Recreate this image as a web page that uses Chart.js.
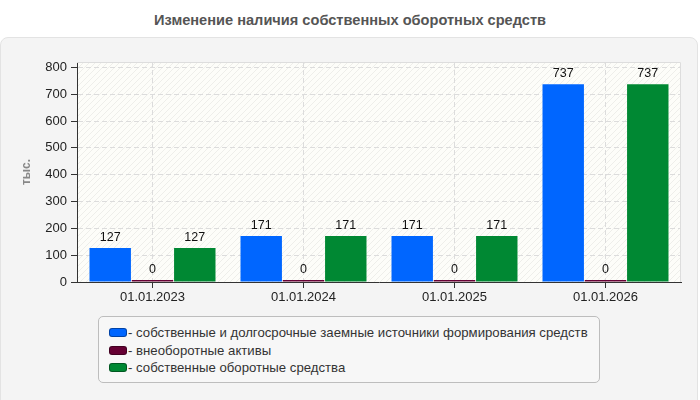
<!DOCTYPE html>
<html lang="ru">
<head>
<meta charset="utf-8">
<script src="https://cdn.jsdelivr.net/npm/chart.js@4/dist/chart.umd.min.js"></script>
<style>
    html, body { margin: 0; padding: 0; background: #fff; }
    body { width: 700px; height: 400px; position: relative; overflow: hidden; font-family: "Liberation Sans", Arial, sans-serif; }
    #title { position: absolute; top: 11px; left: 0; width: 700px; text-align: center; font-size: 14.6px; line-height: 18px; font-weight: bold; color: #555; }
    #panel { position: absolute; top: 37px; left: 0; width: 696px; height: 380px; background: #f4f4f4; border: 1px solid #e3e3e3; border-radius: 8px; }
    #chartBox { position: absolute; top: 38px; left: 0; width: 700px; height: 272px; }
    #legend { position: absolute; left: 98px; top: 316px; width: 502px; height: 67px; border: 1px solid #bdbdbd; border-radius: 5px; background: #f7f7f7; box-sizing: border-box; padding-top: 7px; }
    .item { height: 17.5px; line-height: 17.5px; font-size: 13.2px; color: #333; padding-left: 10px; white-space: nowrap; }
    .swatch { display: inline-block; width: 16px; height: 7px; border-radius: 3px; border: 1px solid rgba(0,0,0,0.35); vertical-align: middle; margin-right: 1px; position: relative; top: -1px; }
</style>
</head>
<body>
<div id="title">Изменение наличия собственных оборотных средств</div>
<div id="panel"></div>
<div id="chartBox"><canvas id="capitalChart" width="700" height="272"></canvas></div>
<div id="legend"></div>
<script>
    // Data
    const dates = ["01.01.2023", "01.01.2024", "01.01.2025", "01.01.2026"];
    const sourcesValues = [127, 171, 171, 737];
    const fixedAssetsValues = [0, 0, 0, 0];
    const workingCapitalValues = [127, 171, 171, 737];
    const yTickValues = [0, 100, 200, 300, 400, 500, 600, 700, 800];
    const seriesNames = [
        "собственные и долгосрочные заемные источники формирования средств",
        "внеоборотные активы",
        "собственные оборотные средства"
    ];
    const seriesColors = ["#0066ff", "#660033", "#008833"];

    // Faint diagonal hatch for the plot area
    function makeHatch() {
        const c = document.createElement('canvas');
        c.width = 6; c.height = 6;
        const g = c.getContext('2d');
        g.fillStyle = '#fdfdf9';
        g.fillRect(0, 0, 6, 6);
        g.strokeStyle = '#eeeeea';
        g.lineWidth = 1;
        g.beginPath();
        g.moveTo(0, 6); g.lineTo(6, 0);
        g.moveTo(-1, 1); g.lineTo(1, -1);
        g.moveTo(5, 7); g.lineTo(7, 5);
        g.stroke();
        return g.createPattern(c, 'repeat');
    }

    const plotFrame = {
        id: 'plotFrame',
        beforeDraw(chart) {
            const a = chart.chartArea, ctx = chart.ctx;
            ctx.save();
            ctx.fillStyle = makeHatch();
            ctx.fillRect(a.left, a.top, a.right - a.left, a.bottom - a.top);
            ctx.restore();
        },
        afterDraw(chart) {
            const a = chart.chartArea, ctx = chart.ctx;
            ctx.save();
            ctx.strokeStyle = '#dddddd';
            ctx.lineWidth = 1;
            ctx.beginPath();
            ctx.moveTo(a.left, a.top + 0.5);
            ctx.lineTo(a.right - 0.5, a.top + 0.5);
            ctx.lineTo(a.right - 0.5, a.bottom);
            ctx.stroke();
            ctx.restore();
        }
    };

    // Value labels above each bar
    const valueLabels = {
        id: 'valueLabels',
        afterDatasetsDraw(chart) {
            const ctx = chart.ctx;
            ctx.save();
            ctx.font = '12.5px "Liberation Sans", Arial, sans-serif';
            ctx.fillStyle = '#111';
            ctx.textAlign = 'center';
            ctx.textBaseline = 'bottom';
            chart.data.datasets.forEach((ds, i) => {
                chart.getDatasetMeta(i).data.forEach((bar, j) => {
                    ctx.fillText(String(ds.data[j]), bar.x, bar.y - 4);
                });
            });
            ctx.restore();
        }
    };

    const allSeries = [sourcesValues, fixedAssetsValues, workingCapitalValues];

    const ctx = document.getElementById('capitalChart').getContext('2d');
    const chart = new Chart(ctx, {
        type: 'bar',
        data: {
            labels: dates,
            datasets: allSeries.map((vals, i) => ({
                label: seriesNames[i],
                data: vals,
                backgroundColor: seriesColors[i],
                borderWidth: 0,
                minBarLength: 2,
                barPercentage: 0.98,
                categoryPercentage: 0.84
            }))
        },
        options: {
            responsive: false,
            animation: false,
            events: [],
            layout: { padding: { left: 0, right: 19, top: 24, bottom: 0 } },
            plugins: {
                legend: { display: false },
                tooltip: { enabled: false },
                title: { display: false }
            },
            scales: {
                x: {
                    afterFit(scale) { scale.height = 28; },
                    grid: {
                        offset: false,
                        color: '#dcdcdc',
                        tickColor: '#333',
                        tickLength: 6,
                        tickBorderDash: []
                    },
                    border: { color: '#333', dash: [5, 3] },
                    ticks: {
                        color: '#222',
                        padding: 2,
                        font: { size: 13, family: '"Liberation Sans", Arial, sans-serif' }
                    }
                },
                y: {
                    min: 0,
                    max: 820,
                    afterFit(scale) { scale.width = 77; },
                    afterBuildTicks(scale) {
                        scale.ticks = yTickValues.map(v => ({ value: v }));
                    },
                    grid: {
                        color: '#dcdcdc',
                        tickColor: '#333',
                        tickLength: 6,
                        tickBorderDash: []
                    },
                    border: { color: '#333', dash: [5, 3] },
                    ticks: {
                        color: '#222',
                        padding: 4,
                        font: { size: 13, family: '"Liberation Sans", Arial, sans-serif' }
                    },
                    title: {
                        display: true,
                        text: 'тыс.',
                        color: '#888',
                        padding: { top: 19, bottom: 0 },
                        font: { size: 12, weight: 'bold', family: '"Liberation Sans", Arial, sans-serif' }
                    }
                }
            }
        },
        plugins: [plotFrame, valueLabels]
    });

    // HTML legend in a framed box
    const legendBox = document.getElementById('legend');
    seriesNames.forEach((name, i) => {
        const row = document.createElement('div');
        row.className = 'item';
        const sw = document.createElement('span');
        sw.className = 'swatch';
        sw.style.background = seriesColors[i];
        row.appendChild(sw);
        row.appendChild(document.createTextNode('- ' + name));
        legendBox.appendChild(row);
    });
</script>
</body>
</html>
